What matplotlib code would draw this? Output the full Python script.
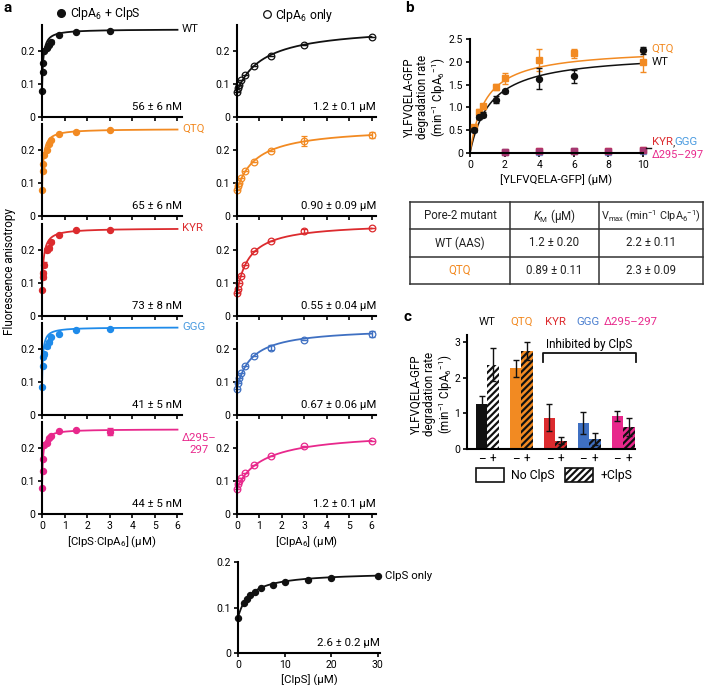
import numpy as np
import matplotlib
matplotlib.use('Agg')
import matplotlib.pyplot as plt
from matplotlib.lines import Line2D
from matplotlib.patches import Patch
from matplotlib.ticker import FuncFormatter

plt.rcParams['font.family'] = ['Roboto', 'DejaVu Sans']
plt.rcParams['mathtext.fontset'] = 'custom'
plt.rcParams['mathtext.rm'] = 'Roboto'
plt.rcParams['mathtext.it'] = 'Roboto:italic'
plt.rcParams['mathtext.default'] = 'regular'
plt.rcParams['hatch.linewidth'] = 1.6

W, H = 705, 685
FS_TICK = 7.5
FS_TXT = 8.2

# ---------------- panel a data ----------------
mutants = ['WT', 'QTQ', 'KYR', 'GGG', 'Δ295–\n297']
colors_left = ['#111111', '#F28A22', '#DC2B2E', '#1F8BEA', '#E8288C']
colors_right = ['#111111', '#F28A22', '#DC2B2E', '#3F70C2', '#E8288C']
label_colors = ['#111111', '#F28A22', '#DC2B2E', '#4A9BE0', '#E8288C']

x_complex = [0, 0.025, 0.05, 0.1, 0.2, 0.3, 0.4, 0.75, 1.5, 3]
y_complex = [
    [0.080, 0.135, 0.165, 0.200, 0.210, 0.218, 0.228, 0.250, 0.258, 0.262],
    [0.078, 0.136, 0.157, 0.185, 0.200, 0.218, 0.230, 0.250, 0.255, 0.260],
    [0.079, 0.118, 0.130, 0.155, 0.200, 0.205, 0.225, 0.245, 0.260, 0.262],
    [0.085, 0.148, 0.175, 0.185, 0.210, 0.220, 0.235, 0.245, 0.258, 0.262],
    [0.078, 0.131, 0.166, 0.209, 0.215, 0.229, 0.235, 0.251, 0.256, 0.250],
]
err_complex = [
    [0, 0, 0, 0, 0, 0, 0.006, 0, 0, 0],
    [0, 0, 0, 0, 0, 0, 0, 0, 0, 0],
    [0, 0.006, 0.006, 0.008, 0.006, 0.006, 0.005, 0, 0, 0],
    [0, 0, 0, 0.006, 0.006, 0.005, 0, 0, 0, 0],
    [0, 0, 0, 0, 0, 0, 0, 0, 0, 0.012],
]
kd_complex = [0.056, 0.065, 0.073, 0.041, 0.044]
y0_complex = [0.080, 0.078, 0.079, 0.085, 0.078]
ymax_complex = [0.266, 0.264, 0.266, 0.266, 0.257]
kd_complex_text = ['56 ± 6 nM', '65 ± 6 nM', '73 ± 8 nM', '41 ± 5 nM', '44 ± 5 nM']

x_clpa = [0, 0.05, 0.1, 0.2, 0.375, 0.75, 1.5, 3, 6]
y_clpa = [
    [0.075, 0.088, 0.097, 0.112, 0.128, 0.155, 0.185, 0.218, 0.243],
    [0.080, 0.092, 0.100, 0.115, 0.135, 0.165, 0.198, 0.228, 0.245],
    [0.069, 0.082, 0.100, 0.120, 0.155, 0.198, 0.226, 0.258, 0.266],
    [0.080, 0.098, 0.113, 0.128, 0.148, 0.180, 0.204, 0.228, 0.245],
    [0.077, 0.092, 0.100, 0.108, 0.123, 0.149, 0.176, 0.205, 0.222],
]
err_clpa = [
    [0, 0, 0, 0, 0, 0, 0, 0, 0],
    [0, 0, 0, 0, 0, 0, 0, 0.015, 0.010],
    [0, 0, 0, 0, 0, 0, 0, 0.007, 0],
    [0, 0, 0, 0, 0, 0, 0.007, 0, 0.010],
    [0, 0, 0, 0, 0, 0, 0, 0, 0],
]
kd_clpa = [1.2, 0.90, 0.55, 0.67, 1.2]
y0_clpa = [0.078, 0.080, 0.070, 0.082, 0.080]
ymax_clpa = [0.276, 0.270, 0.283, 0.265, 0.250]
kd_clpa_text = ['1.2 ± 0.1 μM', '0.90 ± 0.09 μM', '0.55 ± 0.04 μM', '0.67 ± 0.06 μM', '1.2 ± 0.1 μM']

x_clps = [0, 1.25, 1.875, 2.5, 3.75, 5, 7.5, 10, 15, 20, 30]
y_clps = [0.078, 0.109, 0.118, 0.127, 0.134, 0.143, 0.149, 0.157, 0.160, 0.165, 0.170]
kd_clps, y0_clps, ymax_clps = 2.6, 0.078, 0.178

# ---------------- panel b data ----------------
x_sub = [0.25, 0.5, 0.75, 1.5, 2, 4, 6, 10]
wt_rate = [0.51, 0.79, 0.84, 1.17, 1.35, 1.63, 1.68, 2.25]
wt_err = [0.04, 0.04, 0.06, 0.08, 0.04, 0.23, 0.15, 0.08]
qtq_rate = [0.58, 0.91, 1.02, 1.45, 1.64, 2.04, 2.19, 2.00]
qtq_err = [0.04, 0.05, 0.05, 0.07, 0.12, 0.25, 0.10, 0.22]
km_vals = [1.2, 0.89]
vmax_vals = [2.2, 2.3]
x_inh = [2, 4, 6, 8, 10]
kyr_rate = [0.03, 0.04, 0.05, 0.04, 0.06]
ggg_rate = [0.02, 0.03, 0.04, 0.03, 0.05]
del_rate = [0.03, 0.05, 0.05, 0.05, 0.06]

table_rows = [['Pore-2 mutant', '$\\mathit{K}_{M}$ (μM)', 'V$_{max}$ (min$^{-1}$ ClpA$_{6}$$^{-1}$)'],
              ['WT (AAS)', '1.2 ± 0.20', '2.2 ± 0.11'],
              ['QTQ', '0.89 ± 0.11', '2.3 ± 0.09']]

# ---------------- panel c data ----------------
groups = ['WT', 'QTQ', 'KYR', 'GGG', 'Δ295–297']
group_colors = ['#111111', '#F28A22', '#DC2B2E', '#3F70C2', '#E8288C']
rate_no = [1.25, 2.26, 0.88, 0.72, 0.93]
err_no = [0.25, 0.25, 0.37, 0.31, 0.13]
rate_plus = [2.37, 2.76, 0.23, 0.27, 0.62]
err_plus = [0.47, 0.25, 0.10, 0.17, 0.26]

# ---------------------------------------------
fig = plt.figure(figsize=(W / 100, H / 100), dpi=100)


def px_axes(x0, y0, x1, y1):
    return fig.add_axes([x0 / W, 1 - y1 / H, (x1 - x0) / W, (y1 - y0) / H])


def fmt(v, p):
    return '0' if abs(v) < 1e-9 else f'{v:.1f}'


def style(ax):
    for s in ['top', 'right']:
        ax.spines[s].set_visible(False)
    for s in ['left', 'bottom']:
        ax.spines[s].set_linewidth(1.5)
    ax.tick_params(length=3, width=1.2, labelsize=FS_TICK, pad=2)


def hyper(x, y0, ymax, kd):
    x = np.asarray(x, float)
    return y0 + (ymax - y0) * x / (kd + x)


zeros = [117, 216, 316, 415, 514]
xx = np.linspace(0, 6, 300)
for i in range(5):
    z = zeros[i]
    # left
    ax = px_axes(42, z - 92.4, 182, z)
    style(ax)
    ax.set_xlim(0, 6.2)
    ax.set_ylim(0, 0.28)
    ax.set_xticks(range(7))
    ax.set_yticks([0, 0.1, 0.2])
    ax.yaxis.set_major_formatter(FuncFormatter(fmt))
    c = colors_left[i]
    ax.plot(xx, hyper(xx, y0_complex[i], ymax_complex[i], kd_complex[i]), color=c, lw=1.3, clip_on=False)
    ax.errorbar(x_complex, y_complex[i], yerr=err_complex[i], fmt='o', color=c, ms=4.3,
                capsize=2, elinewidth=1, capthick=1, clip_on=False)
    ax.text(6.2, ymax_complex[i] - (0.012 if i == 4 else 0), mutants[i], color=label_colors[i],
            fontsize=FS_TXT, ha='left', va='center' if i < 4 else 'top', multialignment='center')
    ax.text(1.0, 0.05, kd_complex_text[i], transform=ax.transAxes, ha='right', va='bottom', fontsize=FS_TXT)
    if i < 4:
        ax.tick_params(labelbottom=False)
    else:
        ax.set_xlabel('[ClpS·ClpA$_{6}$] (μM)', fontsize=FS_TXT, labelpad=3)
    # right
    ax = px_axes(237, z - 92.4, 376, z)
    style(ax)
    ax.set_xlim(0, 6.2)
    ax.set_ylim(0, 0.28)
    ax.set_xticks(range(7))
    ax.set_yticks([0, 0.1, 0.2])
    ax.yaxis.set_major_formatter(FuncFormatter(fmt))
    c = colors_right[i]
    ax.plot(xx, hyper(xx, y0_clpa[i], ymax_clpa[i], kd_clpa[i]), color=c, lw=1.3, clip_on=False)
    ax.errorbar(x_clpa, y_clpa[i], yerr=err_clpa[i], fmt='o', color=c, mfc='none', ms=4.8, mew=0.9,
                capsize=2, elinewidth=1, capthick=1, clip_on=False)
    ax.text(1.0, 0.05, kd_clpa_text[i], transform=ax.transAxes, ha='right', va='bottom', fontsize=FS_TXT)
    if i < 4:
        ax.tick_params(labelbottom=False)
    else:
        ax.set_xlabel('[ClpA$_{6}$] (μM)', fontsize=FS_TXT, labelpad=3)

# ClpS only panel
ax = px_axes(238, 562, 380, 653)
style(ax)
ax.set_xlim(0, 30.5)
ax.set_ylim(0, 0.2)
ax.set_xticks([0, 10, 20, 30])
ax.set_yticks([0, 0.1, 0.2])
ax.yaxis.set_major_formatter(FuncFormatter(fmt))
xs = np.linspace(0, 30, 300)
ax.plot(xs, hyper(xs, y0_clps, ymax_clps, kd_clps), color='#111111', lw=1.3, clip_on=False)
ax.plot(x_clps, y_clps, 'o', color='#111111', ms=4.3, clip_on=False)
ax.text(31.5, y_clps[-1], 'ClpS only', fontsize=FS_TXT, ha='left', va='center')
ax.text(1.0, 0.05, '2.6 ± 0.2 μM', transform=ax.transAxes, ha='right', va='bottom', fontsize=FS_TXT)
ax.set_xlabel('[ClpS] (μM)', fontsize=FS_TXT, labelpad=3)

# headers / labels panel a
fig.legend([Line2D([], [], marker='o', ls='none', color='#111111', ms=5.5)], ['ClpA$_{6}$ + ClpS'],
           loc='center', bbox_to_anchor=(98 / W, 1 - 14 / H), frameon=False, fontsize=8.8,
           handletextpad=0.2, handlelength=1, borderpad=0)
fig.legend([Line2D([], [], marker='o', ls='none', color='#111111', mfc='none', ms=5.5, mew=0.9)],
           ['ClpA$_{6}$ only'], loc='center', bbox_to_anchor=(297 / W, 1 - 15 / H), frameon=False,
           fontsize=8.8, handletextpad=0.2, handlelength=1, borderpad=0)
fig.text(10 / W, 1 - 272 / H, 'Fluorescence anisotropy', rotation=90, ha='center', va='center', fontsize=8.5)
fig.text(4 / W, 1 - 8 / H, 'a', fontsize=11, fontweight='bold', ha='left', va='center')
fig.text(405 / W, 1 - 8 / H, 'b', fontsize=11, fontweight='bold', ha='left', va='center')
fig.text(403 / W, 1 - 317 / H, 'c', fontsize=11, fontweight='bold', ha='left', va='center')

# ---------------- panel b ----------------
FS_B = 8.2
ax = px_axes(470, 39, 643, 153)
style(ax)
ax.set_xlim(0, 10)
ax.set_ylim(0, 2.5)
ax.set_xticks([0, 2, 4, 6, 8, 10])
ax.set_yticks([0, 0.5, 1.0, 1.5, 2.0, 2.5])
ax.yaxis.set_major_formatter(FuncFormatter(fmt))
xs = np.linspace(0, 10, 300)
ax.plot(xs, vmax_vals[0] * xs / (km_vals[0] + xs), color='#111111', lw=1.1, clip_on=False)
ax.plot(xs, vmax_vals[1] * xs / (km_vals[1] + xs), color='#F28A22', lw=1.1, clip_on=False)
ax.errorbar(x_sub, wt_rate, yerr=wt_err, fmt='o', color='#111111', ms=4.3, capsize=2,
            elinewidth=1, capthick=1, clip_on=False, zorder=4)
ax.errorbar(x_sub, qtq_rate, yerr=qtq_err, fmt='s', color='#F28A22', ms=4.3, capsize=2,
            elinewidth=1, capthick=1, clip_on=False, zorder=3)
ax.plot(x_inh, kyr_rate, 's', color='#DC2B2E', ms=4.3, alpha=0.8, clip_on=False)
ax.plot(x_inh, ggg_rate, 's', color='#3F70C2', ms=4.3, alpha=0.6, clip_on=False)
ax.plot(x_inh, del_rate, 's', color='#B0306A', ms=4.3, alpha=0.8, clip_on=False)
ax.plot([10.15, 10.45], [0.11, 0.11], color='#111111', lw=1, clip_on=False)
ax.text(10.5, 2.28, 'QTQ', color='#F28A22', fontsize=FS_B, ha='left', va='center')
ax.text(10.5, 1.99, 'WT', color='#111111', fontsize=FS_B, ha='left', va='center')
t1 = ax.text(10.5, 0.24, 'KYR', color='#DC2B2E', fontsize=FS_B, ha='left', va='center')
t2 = ax.annotate(',', xy=(1, 0), xycoords=t1, ha='left', va='bottom', fontsize=FS_B, color='#333333')
ax.annotate('GGG', xy=(1, 0), xycoords=t2, ha='left', va='bottom', fontsize=FS_B, color='#4A9BE0')
ax.text(10.5, -0.05, 'Δ295–297', color='#E8288C', fontsize=FS_B - 0.3, ha='left', va='center')
ax.set_xlabel('[YLFVQELA-GFP] (μM)', fontsize=FS_TXT, labelpad=3)
fig.text(425 / W, 1 - 97 / H, 'YLFVQELA-GFP\ndegradation rate\n(min$^{-1}$ ClpA$_{6}$$^{-1}$)',
         rotation=90, ha='center', va='center', fontsize=8.3, multialignment='center', linespacing=1.05)

# ---------------- table ----------------
tax = px_axes(410, 202, 703, 284)
tax.set_xlim(0, 1)
tax.set_ylim(0, 1)
tax.axis('off')
col_edges = [0, 100 / 293, 189 / 293, 1]
for yv in [0, 1 / 3, 2 / 3, 1]:
    tax.plot([0, 1], [yv, yv], color='#333333', lw=1.1, clip_on=False)
for xv in col_edges:
    tax.plot([xv, xv], [0, 1], color='#333333', lw=1.1, clip_on=False)
for r, row in enumerate(table_rows):
    for ci, txt in enumerate(row):
        col = '#F28A22' if (r == 2 and ci == 0) else '#222222'
        fs = 7.8 if (r == 0 and ci == 2) else 8.3
        tax.text((col_edges[ci] + col_edges[ci + 1]) / 2, 1 - (r + 0.5) / 3, txt, ha='center',
                 va='center', fontsize=fs, color=col)

# ---------------- panel c ----------------
ax = px_axes(467, 335, 635, 449)
style(ax)
ax.set_xlim(-0.6, 4.35)
ax.set_ylim(0, 3.2)
ax.set_yticks([0, 1, 2, 3])
gx = np.arange(len(groups))
bw = 0.34
ax.bar(gx - bw / 2, rate_no, width=bw, color=group_colors, linewidth=0, zorder=2)
plus_face = ['white'] + group_colors[1:]
ax.bar(gx + bw / 2, rate_plus, width=bw, color=plus_face, edgecolor='#111111', hatch='/////',
       linewidth=0, zorder=2)
ax.errorbar(gx - bw / 2, rate_no, yerr=err_no, fmt='none', ecolor='#111111', elinewidth=1,
            capsize=2.5, capthick=1, zorder=3)
ax.errorbar(gx + bw / 2, rate_plus, yerr=err_plus, fmt='none', ecolor='#111111', elinewidth=1,
            capsize=2.5, capthick=1, zorder=3)
ticks = np.concatenate([gx - bw / 2, gx + bw / 2])
ax.set_xticks(ticks)
ax.set_xticklabels(['–'] * len(groups) + ['+'] * len(groups), fontsize=8.5)
ax.tick_params(axis='x', length=0, pad=3)
grp_dx = [0, 0, 0, -0.03, 0.22]
for i, g in enumerate(groups):
    ax.text(gx[i] + grp_dx[i], 3.56, g, color=group_colors[i] if i != 3 else '#4A7FD0',
            fontsize=8.2, ha='center', va='center')
ax.plot([1.65, 1.65, 4.37, 4.37], [2.44, 2.69, 2.69, 2.44], color='#111111', lw=1.3, clip_on=False)
ax.text(3.0, 2.94, 'Inhibited by ClpS', fontsize=FS_TXT + 0.3, ha='center', va='center')
fig.text(432 / W, 1 - 394 / H, 'YLFVQELA-GFP\ndegradation rate\n(min$^{-1}$ ClpA$_{6}$$^{-1}$)',
         rotation=90, ha='center', va='center', fontsize=8.3, multialignment='center', linespacing=1.05)
fig.legend([Patch(facecolor='white', edgecolor='#111111', lw=1.2),
            Patch(facecolor='white', edgecolor='#111111', hatch='/////', lw=1.2)],
           ['No ClpS', '+ClpS'], loc='center', bbox_to_anchor=(554 / W, 1 - 475 / H), ncol=2,
           frameon=False, fontsize=8.8, handlelength=2.3, handleheight=1.35, columnspacing=0.8,
           handletextpad=0.6, borderpad=0)

fig.savefig('out.png', dpi=100)
